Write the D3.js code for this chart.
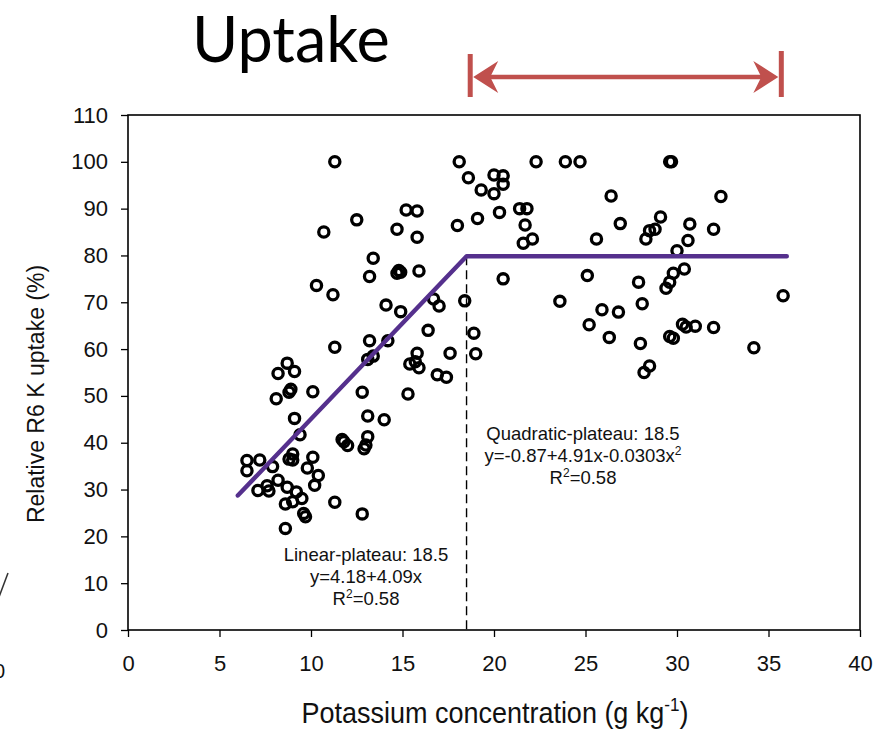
<!DOCTYPE html>
<html>
<head>
<meta charset="utf-8">
<script src="https://cdn.jsdelivr.net/npm/d3@7"></script>
<style>
  html, body { margin: 0; padding: 0; background: #fff; }
  svg { display: block; }
  text { font-family: "Liberation Sans", Arial, sans-serif; }
</style>
</head>
<body>
<svg id="chart" width="888" height="733"></svg>
<script>
// Potassium concentration (g/kg) of each sample
const potassium = [
  11.3, 18.1, 18.6, 20.0, 20.5, 20.5, 19.3, 20.0, 22.3, 23.9, 24.7, 29.6, 29.7, 26.4, 32.4,
  19.1, 20.3, 21.4, 21.8, 21.7, 18.0, 21.6, 22.1, 25.6, 26.9, 28.3, 28.5, 28.8, 29.1, 30.7,
  30.6, 32.0, 30.0,
  15.2, 15.8, 12.5, 10.7, 14.7, 15.8, 13.4, 13.2, 14.7, 14.8, 14.9, 15.9, 10.3, 11.2, 14.1,
  14.9, 16.7, 17.0, 18.4, 16.4, 18.9,
  20.5, 25.1, 27.9, 29.8, 30.4, 29.6, 29.4, 23.6, 28.1, 25.9, 26.8, 35.8, 19.0,
  25.2, 26.3, 28.0, 30.3, 30.5, 31.0, 32.0, 29.6, 29.8, 34.2, 28.5, 28.2,
  13.2, 14.2, 11.3, 13.1, 13.4, 15.8, 15.4, 15.9, 15.7, 17.6, 16.9, 17.4,
  8.7, 8.2, 9.1, 8.9, 8.8, 8.1, 10.1, 12.8, 15.3,
  9.1, 13.1, 14.0, 9.4, 11.7, 11.8, 12.0, 13.1, 13.0, 12.9,
  6.5, 7.2, 6.5, 9.0, 8.8, 9.0, 10.1, 7.9, 9.8, 10.4, 10.2, 8.2, 7.1, 7.6, 7.7, 8.7, 9.2,
  9.5, 9.0, 8.6, 11.3, 9.6, 9.7, 12.8, 8.6
];

// Relative R6 K uptake (%) of each sample, same order
const uptake = [
  100, 100, 96.6, 97.2, 97.0, 95.2, 94.0, 93.2, 100, 100, 100, 100, 100, 92.7, 92.6,
  87.9, 89.2, 90.0, 90.0, 86.5, 86.4, 82.6, 83.5, 83.5, 86.8, 83.5, 85.3, 85.6, 88.2, 86.7,
  83.2, 85.6, 81.0,
  89.7, 89.5, 87.6, 85.0, 85.6, 83.9, 79.4, 75.5, 76.2, 76.8, 76.4, 76.7, 73.6, 71.6, 69.4,
  68.0, 70.7, 69.2, 70.3, 64.0, 63.4,
  75.0, 75.7, 74.3, 76.2, 77.1, 74.3, 73.0, 70.2, 69.7, 68.4, 67.9, 71.4, 59.0,
  65.2, 62.5, 61.2, 65.3, 64.7, 64.9, 64.6, 62.7, 62.3, 60.3, 56.4, 55.0,
  61.8, 61.8, 60.4, 57.8, 58.5, 59.1, 56.8, 56.0, 57.3, 59.1, 54.5, 54.0,
  57.0, 54.8, 55.2, 51.4, 50.8, 49.4, 50.9, 50.8, 50.4,
  45.2, 45.7, 44.9, 41.7, 40.7, 40.2, 39.4, 41.3, 39.5, 38.7,
  36.2, 36.3, 34.0, 37.6, 36.5, 36.3, 36.9, 34.9, 34.6, 33.0, 30.9, 32.0, 29.8, 30.8, 29.7, 30.5, 29.5,
  28.1, 27.4, 26.9, 27.3, 24.9, 24.2, 24.8, 21.7
];

// Linear-plateau model
const intercept = 4.18;
const slope = 4.09;
const joinPoint = 18.5;
const fitStart = 6;
const fitEnd = 36;

// Axis ticks
const xTicks = [0, 5, 10, 15, 20, 25, 30, 35, 40];
const yTicks = [0, 10, 20, 30, 40, 50, 60, 70, 80, 90, 100, 110];

// Extent marked by the arrow above the plot (g/kg)
const arrowRange = [18.7, 35.7];

const svg = d3.select("#chart");
const x = d3.scaleLinear().domain([0, 40]).range([128, 860]);
const y = d3.scaleLinear().domain([0, 110]).range([630, 115]);

// Title
svg.append("text")
  .attr("x", 192).attr("y", 62)
  .style("font-family", "Lato, 'Open Sans', sans-serif")
  .style("font-size", "63px")
  .attr("fill", "#000")
  .text("Uptake");

// Red double-headed arrow with end bars
const red = "#C0504D";
const ay = 77;
const ax0 = x(arrowRange[0]), ax1 = x(arrowRange[1]);
const arrow = svg.append("g");
arrow.append("line").attr("x1", ax0).attr("x2", ax0).attr("y1", 54).attr("y2", 97)
  .attr("stroke", red).attr("stroke-width", 5);
arrow.append("line").attr("x1", ax1).attr("x2", ax1).attr("y1", 51).attr("y2", 97)
  .attr("stroke", red).attr("stroke-width", 5);
arrow.append("line").attr("x1", ax0 + 10).attr("x2", ax1 - 10).attr("y1", ay).attr("y2", ay)
  .attr("stroke", red).attr("stroke-width", 4.5);
arrow.append("path")
  .attr("d", `M${ax0 + 3},${ay} L${ax0 + 28},${ay - 16} L${ax0 + 20},${ay} L${ax0 + 28},${ay + 16} Z`)
  .attr("fill", red);
arrow.append("path")
  .attr("d", `M${ax1 - 3},${ay} L${ax1 - 28},${ay - 16} L${ax1 - 20},${ay} L${ax1 - 28},${ay + 16} Z`)
  .attr("fill", red);

// Axes
const xAxis = svg.append("g")
  .attr("transform", `translate(0,${y(0)})`)
  .call(d3.axisBottom(x).tickValues(xTicks).tickSize(7).tickSizeOuter(0).tickPadding(18));
const yAxis = svg.append("g")
  .attr("transform", `translate(${x(0)},0)`)
  .call(d3.axisLeft(y).tickValues(yTicks).tickSize(7).tickSizeOuter(0).tickPadding(13));
[xAxis, yAxis].forEach(g => {
  g.select(".domain").remove();
  g.selectAll("line").attr("stroke", "#000").attr("stroke-width", 1.3);
  g.selectAll("text").attr("fill", "#111")
    .style("font-size", "22px")
    .style("font-family", "'Liberation Sans', Arial, sans-serif");
});

// Plot frame
svg.append("rect")
  .attr("x", x(0)).attr("y", y(110))
  .attr("width", x(40) - x(0)).attr("height", y(0) - y(110))
  .attr("fill", "none").attr("stroke", "#000").attr("stroke-width", 1.6);

// Dashed line at the join point
svg.append("line")
  .attr("x1", x(joinPoint)).attr("x2", x(joinPoint))
  .attr("y1", y(intercept + slope * joinPoint)).attr("y2", y(0))
  .attr("stroke", "#000").attr("stroke-width", 1.4)
  .attr("stroke-dasharray", "9,5");

// Observations
svg.append("g").selectAll("circle")
  .data(potassium.map((k, i) => [k, uptake[i]]))
  .join("circle")
  .attr("cx", d => x(d[0])).attr("cy", d => y(d[1]))
  .attr("r", 5.1)
  .attr("fill", "none").attr("stroke", "#000").attr("stroke-width", 3.3);

// Fitted linear-plateau
const plateau = intercept + slope * joinPoint;
const fit = [[fitStart, intercept + slope * fitStart], [joinPoint, plateau], [fitEnd, plateau]];
svg.append("path")
  .attr("d", d3.line().x(d => x(d[0])).y(d => y(d[1]))(fit))
  .attr("fill", "none").attr("stroke", "#55308D").attr("stroke-width", 4.4)
  .attr("stroke-linejoin", "round").attr("stroke-linecap", "round");

// Model annotations
function note(cx, cy, lines) {
  const t = svg.append("text")
    .attr("text-anchor", "middle")
    .style("font-size", "18.5px").attr("fill", "#111");
  lines.forEach((ln, i) => {
    const row = t.append("tspan").attr("x", cx).attr("y", cy + i * 22);
    ln.forEach(part => {
      const s = row.append("tspan").text(part.t);
      if (part.sup) s.attr("dy", -7).style("font-size", "12px");
      if (part.down) s.attr("dy", 7);
    });
  });
}
note(583, 440, [
  [{ t: "Quadratic-plateau: 18.5" }],
  [{ t: "y=-0.87+4.91x-0.0303x" }, { t: "2", sup: true }],
  [{ t: "R" }, { t: "2", sup: true }, { t: "=0.58", down: true }]
]);
note(366, 561, [
  [{ t: "Linear-plateau: 18.5" }],
  [{ t: "y=4.18+4.09x" }],
  [{ t: "R" }, { t: "2", sup: true }, { t: "=0.58", down: true }]
]);

// Axis titles
const xt = svg.append("text")
  .attr("transform", "translate(495,723) scale(0.9,1)")
  .attr("text-anchor", "middle")
  .style("font-size", "30px").attr("fill", "#111");
xt.append("tspan").text("Potassium concentration (g kg");
xt.append("tspan").text("-1").attr("dy", -12).style("font-size", "19px");
xt.append("tspan").text(")").attr("dy", 12);

svg.append("text")
  .attr("transform", "translate(44,394) rotate(-90)")
  .attr("text-anchor", "middle")
  .style("font-size", "23px").attr("fill", "#111")
  .text("Relative R6 K uptake (%)");

// Edge of the neighbouring panel
svg.append("line").attr("x1", -1).attr("y1", 597).attr("x2", 8).attr("y2", 573)
  .attr("stroke", "#333").attr("stroke-width", 1.5);
svg.append("text").attr("x", -6).attr("y", 678)
  .style("font-size", "20px").attr("fill", "#111").text("0");
</script>
</body>
</html>
